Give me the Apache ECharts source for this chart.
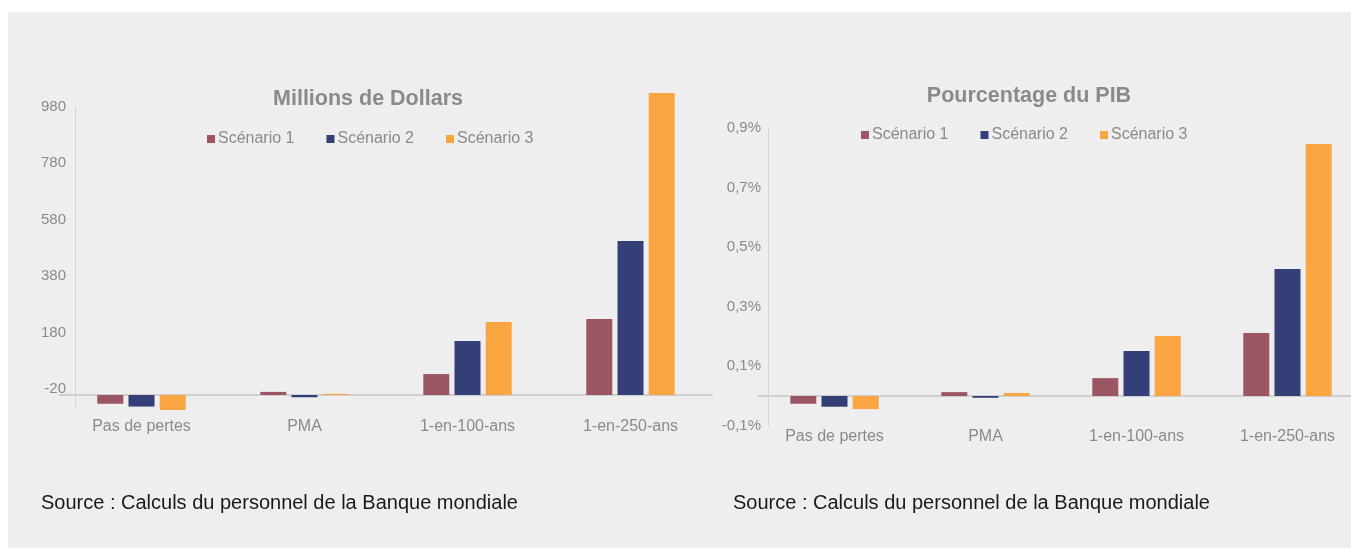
<!DOCTYPE html>
<html>
<head>
<meta charset="utf-8">
<script src="https://cdn.jsdelivr.net/npm/echarts@6/dist/echarts.min.js"></script>
<style>
  html, body { margin: 0; padding: 0; background: #ffffff; overflow: hidden; width: 1351px; height: 552px; }
  #panel { position: absolute; left: 8px; top: 12px; width: 1343px; height: 536px; background: #eeeeee; }
  #chart { position: absolute; left: 0; top: 0; width: 1380px; height: 552px; }
</style>
</head>
<body>
<div id="panel"></div>
<div id="chart"></div>
<script>
var categories = ['Pas de pertes', 'PMA', '1-en-100-ans', '1-en-250-ans'];
var seriesNames = ['Scénario 1', 'Scénario 2', 'Scénario 3'];
var colors = ['#9b5563', '#333f76', '#f8a542'];

// millions de dollars
var dollars1 = [-31, 11, 74, 269];
var dollars2 = [-41, -8, 191, 545];
var dollars3 = [-53, 4, 258, 1069];
var dollarTicks = [-20, 180, 380, 580, 780, 980];
var dollarTickShift = 40; // les libellés du graphique d'origine sont décalés

// pourcentage du PIB
var pib1 = [-0.026, 0.013, 0.060, 0.211];
var pib2 = [-0.036, -0.006, 0.151, 0.426];
var pib3 = [-0.044, 0.010, 0.201, 0.846];
var pibTicks = [-0.1, 0.1, 0.3, 0.5, 0.7, 0.9];

var grey = '#8a8a8a';
var font = '"Liberation Sans", Arial, sans-serif';

function barSeries(name, data, idx, color) {
  return {
    name: name,
    type: 'bar',
    xAxisIndex: idx,
    yAxisIndex: idx,
    data: data,
    barWidth: 26,
    barGap: '20%',
    clip: false,
    itemStyle: { color: color },
    emphasis: { disabled: true }
  };
}

var chart = echarts.init(document.getElementById('chart'));
chart.setOption({
  animation: false,
  textStyle: { fontFamily: font },
  color: colors,
  title: [
    { text: 'Millions de Dollars', left: 363, top: 83, textAlign: 'center',
      textStyle: { fontSize: 21.5, fontWeight: 'bold', color: grey, fontFamily: font } },
    { text: 'Pourcentage du PIB', left: 1024, top: 80, textAlign: 'center',
      textStyle: { fontSize: 21.5, fontWeight: 'bold', color: grey, fontFamily: font } },
    { text: 'Source : Calculs du personnel de la Banque mondiale', left: 36, top: 488,
      textStyle: { fontSize: 20, fontWeight: 'normal', color: '#1a1a1a', fontFamily: font } },
    { text: 'Source : Calculs du personnel de la Banque mondiale', left: 728, top: 488,
      textStyle: { fontSize: 20, fontWeight: 'normal', color: '#1a1a1a', fontFamily: font } }
  ],
  legend: [
    { data: seriesNames, left: 202, top: 126, itemWidth: 8, itemHeight: 8, itemGap: 32,
      icon: 'rect', textStyle: { fontSize: 16, color: grey, padding: [0, 0, 0, -2] } },
    { data: seriesNames, left: 856, top: 122, itemWidth: 8, itemHeight: 8, itemGap: 32,
      icon: 'rect', textStyle: { fontSize: 16, color: grey, padding: [0, 0, 0, -2] } }
  ],
  grid: [
    { left: 60, top: 106.8, width: 652, height: 299.5 },
    { left: 759, top: 127.8, width: 604, height: 298 }
  ],
  xAxis: [
    { type: 'category', gridIndex: 0, data: categories,
      axisLine: { lineStyle: { color: '#cfcfcf', width: 2 } },
      axisTick: { show: false },
      axisLabel: { fontSize: 16, color: grey, margin: 12 } },
    { type: 'category', gridIndex: 1, data: categories,
      axisLine: { lineStyle: { color: '#cfcfcf', width: 2 } },
      axisTick: { show: false },
      axisLabel: { fontSize: 16, color: grey, margin: 3 } }
  ],
  yAxis: [
    { type: 'value', gridIndex: 0, min: -40, max: 1020, offset: -15,
      splitLine: { show: false },
      axisLine: { show: true, lineStyle: { color: '#d4d4d4', width: 1 } },
      axisTick: { show: false },
      axisLabel: {
        fontSize: 15, color: grey, margin: 9,
        customValues: dollarTicks.map(function (v) { return v + dollarTickShift; }),
        formatter: function (v) { return String(Math.round(v - dollarTickShift)); }
      } },
    { type: 'value', gridIndex: 1, min: -0.1, max: 0.9, offset: -9,
      splitLine: { show: false },
      axisLine: { show: true, lineStyle: { color: '#d4d4d4', width: 1 } },
      axisTick: { show: false },
      axisLabel: {
        fontSize: 15, color: grey, margin: 7,
        customValues: pibTicks,
        formatter: function (v) { return v.toFixed(1).replace('.', ',') + '%'; }
      } }
  ],
  series: [
    barSeries(seriesNames[0], dollars1, 0, colors[0]),
    barSeries(seriesNames[1], dollars2, 0, colors[1]),
    barSeries(seriesNames[2], dollars3, 0, colors[2]),
    barSeries(seriesNames[0], pib1, 1, colors[0]),
    barSeries(seriesNames[1], pib2, 1, colors[1]),
    barSeries(seriesNames[2], pib3, 1, colors[2])
  ]
});
</script>
</body>
</html>
